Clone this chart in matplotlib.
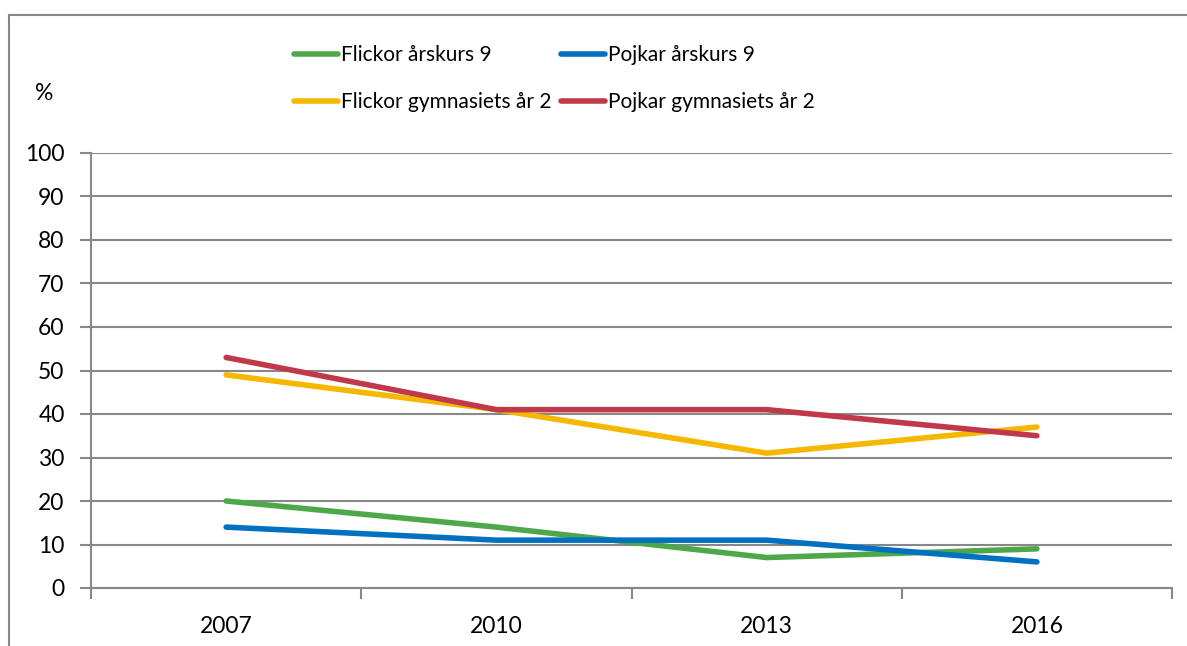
import matplotlib
matplotlib.use("Agg")
import matplotlib.pyplot as plt
from matplotlib.lines import Line2D

years = ["2007", "2010", "2013", "2016"]
flickor_ak9 = [20, 14, 7, 9]
pojkar_ak9 = [14, 11, 11, 6]
flickor_gym = [49, 41, 31, 37]
pojkar_gym = [53, 41, 41, 35]
labels = ["Flickor årskurs 9", "Pojkar årskurs 9", "Flickor gymnasiets år 2", "Pojkar gymnasiets år 2"]
colors = ["#4EA84A", "#0070C0", "#F5B700", "#C0394A"]
yticks = [0, 10, 20, 30, 40, 50, 60, 70, 80, 90, 100]

plt.rcParams['font.family'] = ['Lato', 'DejaVu Sans']
W, H = 1187, 646
FS = 16.5
fig = plt.figure(figsize=(W/100, H/100), dpi=100)

# outer frame (left and top visible)
fig.add_artist(Line2D([9/W, 9/W], [0, 1 - 15/H], transform=fig.transFigure, color="#868686", lw=1.5))
fig.add_artist(Line2D([9/W, 1], [1 - 15/H, 1 - 15/H], transform=fig.transFigure, color="#868686", lw=1.5))

ax = fig.add_axes([91/W, 1 - 588/H, (1172 - 91)/W, (588 - 153)/H])
x = list(range(len(years)))
series = [flickor_ak9, pojkar_ak9, flickor_gym, pojkar_gym]
handles = []
for s, lab, c in zip(series, labels, colors):
    h, = ax.plot(x, s, color=c, lw=4.0, solid_capstyle="round", label=lab, zorder=3)
    handles.append(h)

ax.set_xlim(-0.5, len(years) - 0.5)
ax.set_ylim(0, 100)
ax.set_yticks(yticks)
ax.set_yticklabels([str(v) for v in yticks], fontsize=FS)
ax.yaxis.grid(True, color="#888888", lw=1.5)
ax.set_axisbelow(True)
ax.set_xticks([i - 0.5 for i in range(len(years) + 1)])
ax.set_xticklabels([])
ax.set_xticks(x, minor=True)
ax.set_xticklabels(years, minor=True, fontsize=FS)
ax.tick_params(axis="x", which="minor", length=0, pad=20)
ax.tick_params(axis="x", which="major", length=8, width=1.5, color="#888888")
ax.tick_params(axis="y", length=8, width=1.5, color="#888888", pad=11)
for sp in ["top", "right"]:
    ax.spines[sp].set_visible(False)
for sp in ["left", "bottom"]:
    ax.spines[sp].set_color("#888888")
    ax.spines[sp].set_linewidth(1.5)

fig.text(44/W, 1 - 94/H, "%", fontsize=FS, ha="center", va="center")

# legend: row-wise order (matplotlib fills columns first)
order = [0, 2, 1, 3]
leg = fig.legend(handles=[handles[i] for i in order], labels=[labels[i] for i in order],
                 ncol=2, loc="upper left",
                 bbox_to_anchor=(284/W, 1 - 35/H), frameon=False, fontsize=15,
                 handlelength=2.1, handletextpad=0.15, columnspacing=0.45,
                 labelspacing=1.3, borderpad=0)

fig.savefig("out.png", dpi=100)
